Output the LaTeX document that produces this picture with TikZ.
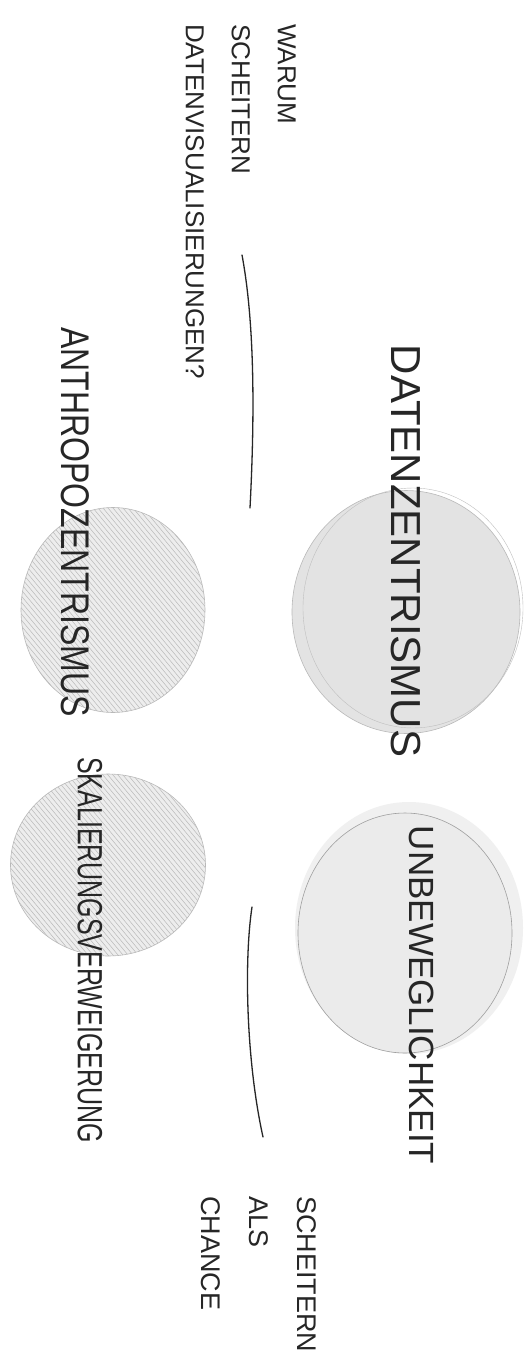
\documentclass[tikz,border=0pt]{standalone}
\usepackage{fontspec}
\setmainfont{Liberation Sans}
\usetikzlibrary{shapes.geometric,calc}

\begin{document}
\begin{tikzpicture}[x=1pt, y=-1pt,
  blob/.style={ellipse, inner sep=0pt, fill=gray!22, draw=gray!55, line width=.6pt},
  hatch/.style={fill=gray!14, path picture={
      \foreach \i in {-300,-295,...,300}
        \draw[gray!55, line width=.5pt]
          ($(path picture bounding box.center)+(\i pt,0pt)$) ++(-100pt,120pt) -- ++(200pt,-240pt);}},
  lbl/.style={rotate=-90, inner sep=0pt, text=black!85},
  rule/.style={line width=1.3pt, black!85, line cap=round}]
\useasboundingbox[fill=white] (0,0) rectangle (529,1362);

% circles
\node[blob, minimum width=228pt, minimum height=243pt] (dz) at (406,612) {};
\draw[gray!50] ([shift={(7,-4)}]dz.center) ellipse (110 and 120);
\node[blob, hatch, minimum width=184pt, minimum height=205pt] (az) at (113,610) {};
\fill[gray!12] (409,928) ellipse (114 and 126);
\node[blob, fill=gray!16, draw=gray!75, minimum width=214pt, minimum height=240pt] (ub) at (405,933) {};
\node[blob, hatch, minimum width=195pt, minimum height=182pt] (sv) at (108,865) {};

% texts
\node[lbl, font=\fontsize{26}{46}\selectfont, align=left, anchor=north west] (frage) at (296,24)
  {WARUM\\SCHEITERN\\DATENVISUALISIERUNGEN?};
\node[lbl, font=\fontsize{42}{50}\selectfont] (dzt) at (406,551) {DATENZENTRISMUS};
\node[lbl, font=\fontsize{32}{40}\selectfont] (azt) at (75,522) {\scalebox{1}[1.25]{ANTHROPOZENTRISMUS}};
\node[lbl, font=\fontsize{35}{42}\selectfont] (ubt) at (422,995) {UNBEWEGLICHKEIT};
\node[lbl, font=\fontsize{25}{30}\selectfont] (svt) at (90,950) {\scalebox{1}[1.4]{SKALIERUNGSVERWEIGERUNG}};
\node[lbl, font=\fontsize{27}{48}\selectfont, align=left, anchor=north west] (chance) at (317,1196)
  {SCHEITERN\\ALS\\CHANCE};

% dividers
\coordinate (r1a) at (242,255); \coordinate (r1b) at (250,508);
\coordinate (r2a) at (252,907); \coordinate (r2b) at (263,1137);
\draw[rule] (r1a) .. controls (256,330) and (254,430) .. (r1b);
\draw[rule] (r2a) .. controls (244,960) and (246,1060) .. (r2b);
\end{tikzpicture}
\end{document}
